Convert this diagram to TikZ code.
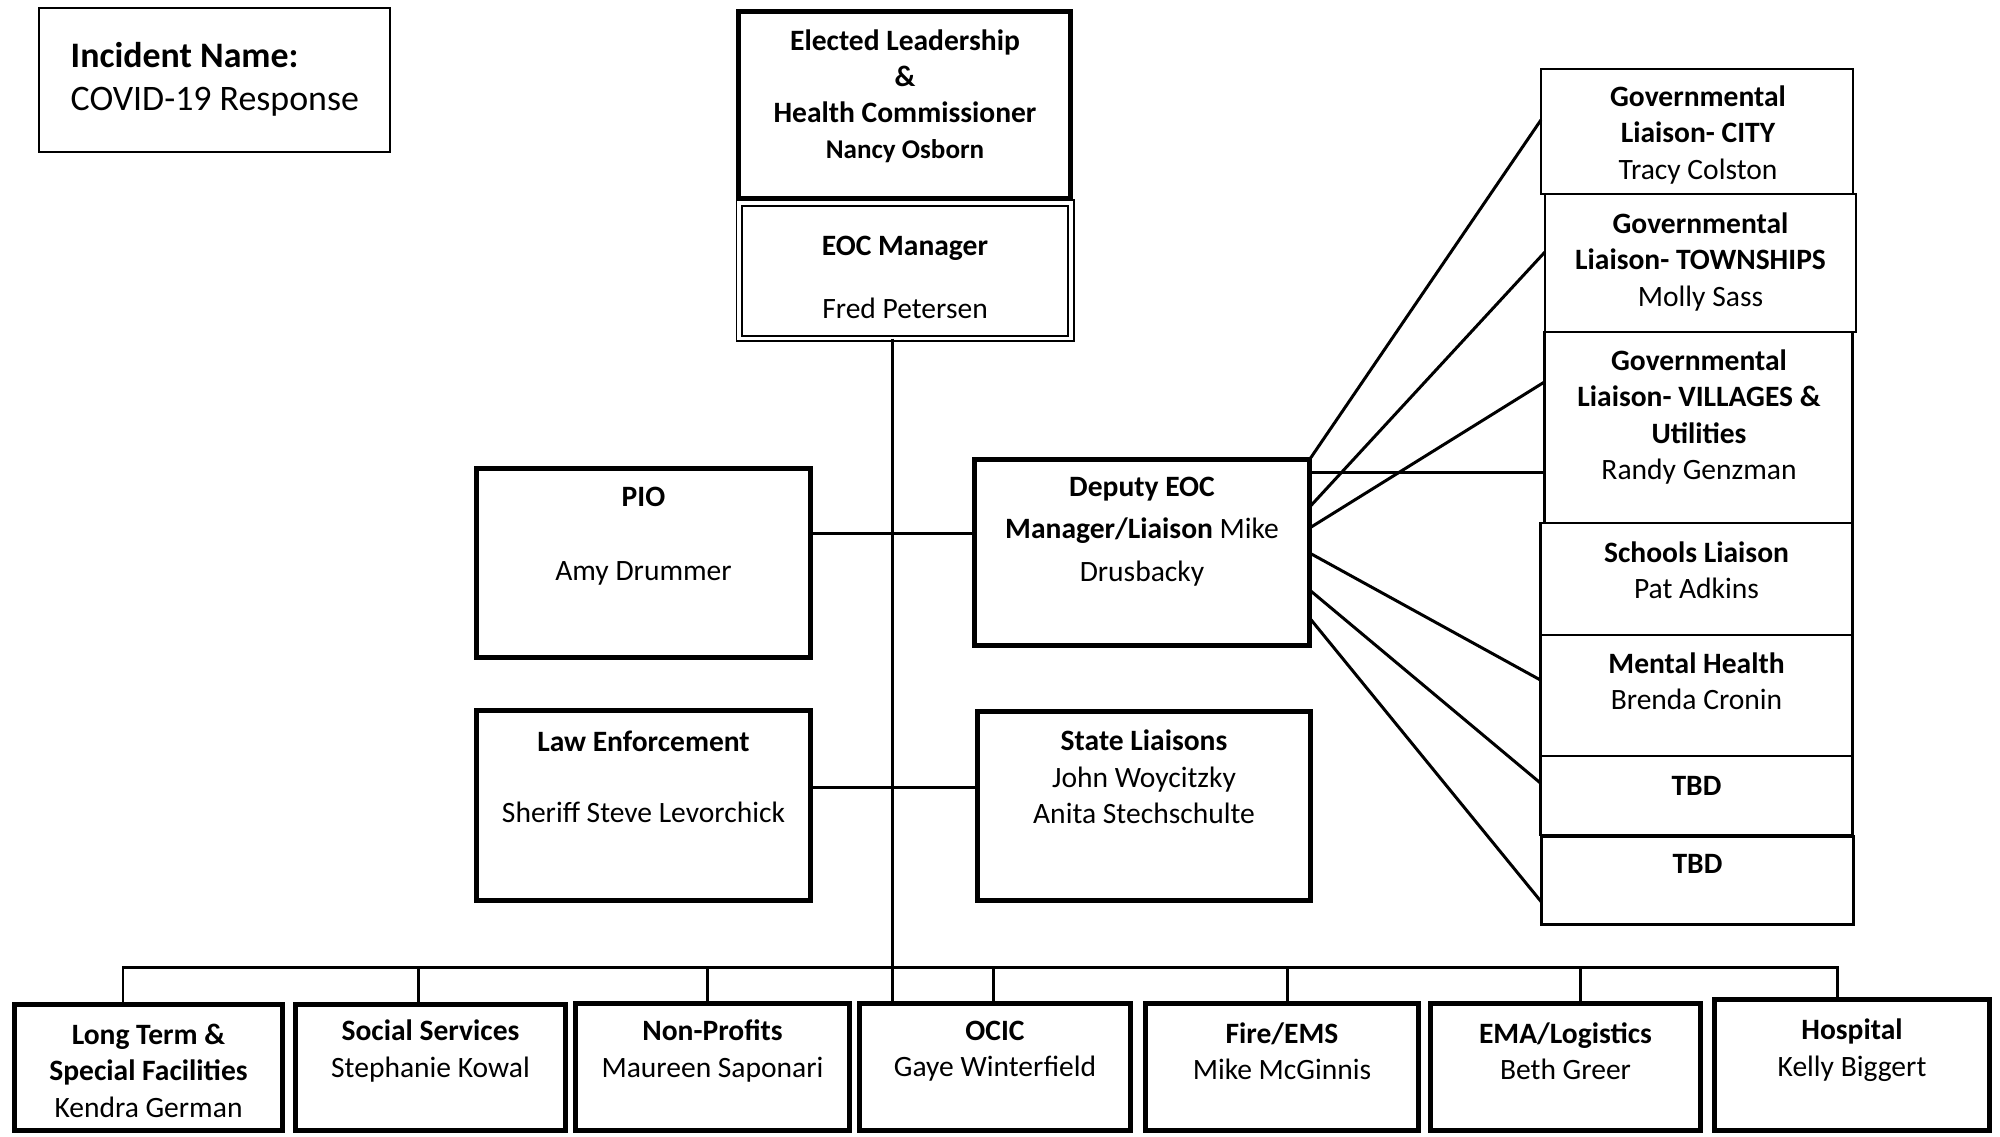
\documentclass[tikz,border=0pt]{standalone}
\usepackage{fontspec}
\setmainfont{Carlito}
\begin{document}
\begin{tikzpicture}[x=0.01cm,y=-0.01cm,
  thickbox/.style={draw, line width=1.4pt, inner sep=0, outer sep=0, rectangle},
  thinbox/.style={draw, line width=0.7pt, inner sep=0, outer sep=0, rectangle},
  dblbox/.style={draw, line width=0.5pt, double=white, double distance=1.1pt, inner sep=0, outer sep=0, rectangle},
  txt/.style={inner sep=0, align=center, font=\fontsize{8.4}{10.35}\selectfont},
  txtwide/.style={inner sep=0, align=center, font=\fontsize{8.4}{12}\selectfont},
  conn/.style={line width=0.85pt}]
\fill[white] (0,0) rectangle (2000,1136);
\useasboundingbox (0,0) rectangle (2000,1136);

% incident box
\node[thinbox, line width=0.6pt, minimum width=3.51cm, minimum height=1.44cm] (inc) at (214.5,80) {};
\node[inner sep=0, align=left, anchor=west, font=\fontsize{10.2}{12.3}\selectfont] (tinc) at (70,79) {\textbf{Incident Name:}\\COVID-19 Response};

% top
\node[dblbox, minimum width=3.315cm, minimum height=1.355cm] (eoc) at (905.25,270.75) {};
\node[thickbox, minimum width=3.32cm, minimum height=1.87cm] (elected) at (904.5,105) {};
\node[txt, font=\bfseries\fontsize{8.4}{10.25}\selectfont] (tel) at (905,96) {Elected Leadership\\\&\\Health Commissioner\\{\fontsize{7.7}{10.25}\selectfont Nancy Osborn}};
\node[txt] (teoc) at (905,277.5) {\textbf{EOC Manager}\\[7.6pt]Fred Petersen};

% middle
\node[thickbox, minimum width=3.34cm, minimum height=1.89cm] (pio) at (643.5,563) {};
\node[txt] (tpio) at (643.5,536) {\textbf{PIO}\\[10.7pt]Amy Drummer};
\node[thickbox, minimum width=3.35cm, minimum height=1.86cm] (dep) at (1142,552.5) {};
\node[txtwide] (tdep) at (1142,531.5) {\textbf{Deputy EOC}\\\textbf{Manager/Liaison} Mike\\Drusbacky};
\node[thickbox, minimum width=3.34cm, minimum height=1.90cm] (law) at (643.5,805.5) {};
\node[txt] (tlaw) at (643.5,776.5) {\textbf{Law Enforcement}\\[9.9pt]Sheriff Steve Levorchick};
\node[thickbox, minimum width=3.33cm, minimum height=1.89cm] (state) at (1144,806) {};
\node[txt] (tstate) at (1144,777) {\textbf{State Liaisons}\\John Woycitzky\\Anita Stechschulte};

% right column
\node[thinbox, minimum width=3.12cm, minimum height=1.25cm] (city) at (1697,131.5) {};
\node[txt] (tcity) at (1698,135) {\textbf{Governmental}\\\textbf{Liaison- CITY}\\Tracy Colston};
\node[thinbox, minimum width=3.11cm, minimum height=1.38cm] (town) at (1700.5,263) {};
\node[txt] (ttown) at (1700.5,262) {\textbf{Governmental}\\\textbf{Liaison- TOWNSHIPS}\\Molly Sass};
\node[thinbox, minimum width=3.08cm, minimum height=1.91cm] (vill) at (1698.5,427.5) {};
\node[txt] (tvill) at (1699,417) {\textbf{Governmental}\\\textbf{Liaison- VILLAGES \&}\\\textbf{Utilities}\\Randy Genzman};
\node[thinbox, minimum width=3.12cm, minimum height=1.12cm] (school) at (1696.5,579) {};
\node[txt] (tschool) at (1696.5,570.5) {\textbf{Schools Liaison}\\Pat Adkins};
\node[thinbox, minimum width=3.12cm, minimum height=1.21cm] (mental) at (1696.5,695.5) {};
\node[txt] (tmental) at (1696.5,681.5) {\textbf{Mental Health}\\Brenda Cronin};
\node[thinbox, minimum width=3.12cm, minimum height=0.79cm] (tbda) at (1696.5,795.5) {};
\node[txt, font=\bfseries\fontsize{8.4}{10.35}\selectfont] (ttbda) at (1696.5,786) {TBD};
\node[thinbox, minimum width=3.12cm, minimum height=0.88cm] (tbdb) at (1697.5,880.5) {};
\node[txt, font=\bfseries\fontsize{8.4}{10.35}\selectfont] (ttbdb) at (1697.5,864) {TBD};

% bottom row
\node[thickbox, minimum width=2.68cm, minimum height=1.26cm] (lt) at (148.5,1067.5) {};
\node[txt] (tlt) at (148.5,1070.5) {\textbf{Long Term \&}\\\textbf{Special Facilities}\\Kendra German};
\node[thickbox, minimum width=2.70cm, minimum height=1.26cm] (ss) at (430.5,1067.5) {};
\node[txt] (tss) at (430.5,1051) {\textbf{Social Services}\\Stephanie Kowal};
\node[thickbox, minimum width=2.74cm, minimum height=1.27cm] (np) at (712.5,1067) {};
\node[txt] (tnp) at (712.5,1051) {\textbf{Non-Profits}\\Maureen Saponari};
\node[thickbox, minimum width=2.71cm, minimum height=1.27cm] (ocic) at (995,1067) {};
\node[txt] (tocic) at (995,1051) {\textbf{OCIC}\\Gaye Winterfield};
\node[thickbox, minimum width=2.73cm, minimum height=1.27cm] (fire) at (1282,1067) {};
\node[txt] (tfire) at (1282,1051) {\textbf{Fire/EMS}\\Mike McGinnis};
\node[thickbox, minimum width=2.70cm, minimum height=1.27cm] (ema) at (1565.5,1067) {};
\node[txt] (tema) at (1565.5,1051) {\textbf{EMA/Logistics}\\Beth Greer};
\node[thickbox, minimum width=2.75cm, minimum height=1.31cm] (hosp) at (1852,1065) {};
\node[txt] (thosp) at (1852,1050) {\textbf{Hospital}\\Kelly Biggert};

% main vertical
\coordinate (mv) at (892,0);
\draw[conn] (mv |- eoc.south) -- (mv |- ocic.north);

% horizontal links
\draw[conn] (pio.east |- 0,533) -- (dep.west |- 0,533);
\draw[conn] (law.east |- 0,787) -- (state.west |- 0,787);

% fan from deputy
\draw[conn] (dep.north east) -- (city.west |- 0,120);
\draw[conn] (dep.east |- 0,507) -- (town.west |- 0,252);
\draw[conn] (dep.east |- 0,528) -- (vill.west |- 0,382);
\draw[conn] (dep.east |- 0,472) -- (vill.west |- 0,472);
\draw[conn] (dep.east |- 0,553) -- (mental.west |- 0,680);
\draw[conn] (dep.east |- 0,590) -- (tbda.west |- 0,783);
\draw[conn] (dep.east |- 0,618) -- (tbdb.west |- 0,902);

% bus
\coordinate (b1) at (123,967);
\coordinate (b2) at (418,967);
\coordinate (b3) at (707,967);
\coordinate (b4) at (993,967);
\coordinate (b5) at (1287,967);
\coordinate (b6) at (1580,967);
\coordinate (b7) at (1837,967);
\draw[conn] (b1 |- lt.north) -- (b1) -- (b7) -- (b7 |- hosp.north);
\draw[conn] (b2) -- (b2 |- ss.north);
\draw[conn] (b3) -- (b3 |- np.north);
\draw[conn] (b4) -- (b4 |- ocic.north);
\draw[conn] (b5) -- (b5 |- fire.north);
\draw[conn] (b6) -- (b6 |- ema.north);
\end{tikzpicture}
\end{document}
